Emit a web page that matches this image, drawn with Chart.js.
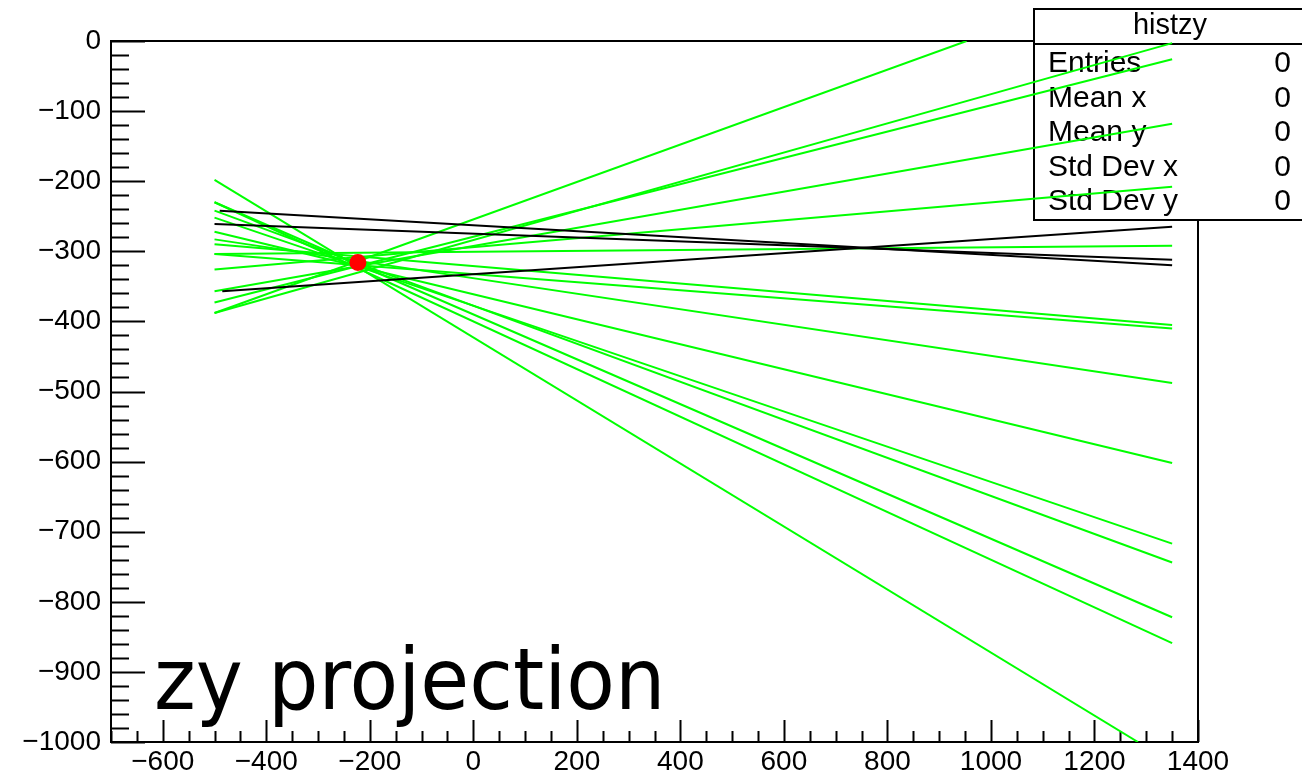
<!DOCTYPE html>
<html>
<head>
<meta charset="utf-8">
<script src="https://cdn.jsdelivr.net/npm/chart.js@4.4.1/dist/chart.umd.min.js"></script>
<style>
  html, body { margin: 0; padding: 0; background: #fff; }
  #wrap { width: 1302px; height: 778px; }
</style>
</head>
<body>
<div id="wrap"><canvas id="myChart"></canvas></div>
<script>
// axis tick labels
const xTicks = [-600, -400, -200, 0, 200, 400, 600, 800, 1000, 1200, 1400];
const yTicks = [0, -100, -200, -300, -400, -500, -600, -700, -800, -900, -1000];

// green tracks: start (z, y) -> end (z, y)
const greenZ0 = [-500, -500, -500, -500, -500, -500, -500, -500, -500, -500, -500, -500, -500, -500, -500];
const greenY0 = [-388, -388, -373, -357, -326, -304, -304, -290, -283, -272, -252, -242, -230, -230, -198];
const greenZ1 = [953, 1350, 1350, 1350, 1350, 1350, 1350, 1350, 1350, 1350, 1350, 1350, 1350, 1350, 1284];
const greenY1 = [0, -3, -26, -118, -208, -292, -410, -405, -488, -602, -717, -744, -822, -859, -1000];

// black tracks
const blackZ0 = [-490, -500, -485];
const blackY0 = [-242, -261, -357];
const blackZ1 = [1350, 1350, 1350];
const blackY1 = [-320, -312, -265];

// vertex
const vertexZ = [-223];
const vertexY = [-316];

// stats box
const statsTitle = 'histzy';
const statsLabels = ['Entries', 'Mean x', 'Mean y', 'Std Dev x', 'Std Dev y'];
const statsValues = [0, 0, 0, 0, 0];

const plotTitle = 'zy projection';

const datasets = [];

datasets.push({
    label: 'vertex',
    data: vertexZ.map((z, i) => ({ x: z, y: vertexY[i] })),
    backgroundColor: '#ff0000',
    borderColor: '#ff0000',
    pointRadius: 8.5,
    borderWidth: 0,
    order: 0
});

blackY0.forEach((y0, i) => {
    datasets.push({
        label: 'black ' + i,
        data: [{ x: blackZ0[i], y: y0 }, { x: blackZ1[i], y: blackY1[i] }],
        borderColor: '#000000',
        borderWidth: 2,
        showLine: true,
        pointRadius: 0,
        order: 1
    });
});

greenY0.forEach((y0, i) => {
    datasets.push({
        label: 'green ' + i,
        data: [{ x: greenZ0[i], y: y0 }, { x: greenZ1[i], y: greenY1[i] }],
        borderColor: '#00ff00',
        borderWidth: 2,
        showLine: true,
        pointRadius: 0,
        order: 2
    });
});

const minus = v => String(v).replace('-', '\u2212');

// frame, inward ticks, stats box, big label
const rootStyle = {
    id: 'rootStyle',
    beforeDatasetsDraw(chart) {
        const { ctx, chartArea: a, scales: { x, y } } = chart;
        ctx.save();
        ctx.strokeStyle = '#000';
        ctx.lineWidth = 2;
        ctx.strokeRect(a.left, a.top, a.right - a.left, a.bottom - a.top);

        ctx.beginPath();
        for (let v = x.min; v <= x.max; v += 50) {
            const px = Math.round(x.getPixelForValue(v)) + 0.5;
            const len = xTicks.includes(v) ? 22 : 11;
            ctx.moveTo(px, a.bottom);
            ctx.lineTo(px, a.bottom - len);
        }
        for (let v = y.min; v <= y.max; v += 20) {
            const py = Math.round(y.getPixelForValue(v)) + 0.5;
            const len = yTicks.includes(v) ? 34 : 18;
            ctx.moveTo(a.left, py);
            ctx.lineTo(a.left + len, py);
        }
        ctx.stroke();

        // stats box
        const bx = 1034, by = 9, bw = 290, bh = 211;
        ctx.fillStyle = '#fff';
        ctx.fillRect(bx, by, bw, bh);
        ctx.strokeRect(bx, by, bw, bh);
        ctx.beginPath();
        ctx.moveTo(bx, 44);
        ctx.lineTo(bx + bw, 44);
        ctx.stroke();

        ctx.fillStyle = '#000';
        ctx.font = '29px "Liberation Sans"';
        ctx.textBaseline = 'alphabetic';
        ctx.textAlign = 'center';
        ctx.fillText(statsTitle, 1170, 34);
        ctx.font = '30px "Liberation Sans"';
        statsLabels.forEach((lab, i) => {
            const base = 72 + i * 34.5;
            ctx.textAlign = 'left';
            ctx.fillText(lab, 1048, base);
            ctx.textAlign = 'right';
            ctx.fillText(String(statsValues[i]), 1291, base);
        });
        ctx.restore();
    },
    afterDatasetsDraw(chart) {
        const { ctx } = chart;
        ctx.save();
        ctx.fillStyle = '#000';
        ctx.font = '86px "DejaVu Sans"';
        ctx.textBaseline = 'alphabetic';
        ctx.textAlign = 'left';
        ctx.translate(154, 709);
        ctx.scale(0.925, 1);
        ctx.fillText(plotTitle, 0, 0);
        ctx.restore();
    }
};

const config = {
    type: 'scatter',
    data: { datasets: datasets },
    options: {
        responsive: true,
        maintainAspectRatio: false,
        animation: false,
        events: [],
        layout: { padding: { top: 41, right: 104, left: 0, bottom: 0 } },
        plugins: {
            legend: { display: false },
            tooltip: { enabled: false }
        },
        scales: {
            x: {
                type: 'linear',
                min: -700,
                max: 1400,
                grid: { display: false, drawTicks: false },
                border: { display: false },
                afterBuildTicks: scale => { scale.ticks = xTicks.map(v => ({ value: v })); },
                afterFit: scale => { scale.height = 36; },
                ticks: {
                    color: '#000',
                    padding: 3,
                    maxRotation: 0,
                    autoSkip: false,
                    font: { family: 'Liberation Sans', size: 28 },
                    callback: v => minus(v)
                }
            },
            y: {
                type: 'linear',
                min: -1000,
                max: 0,
                grid: { display: false, drawTicks: false },
                border: { display: false },
                afterBuildTicks: scale => { scale.ticks = yTicks.map(v => ({ value: v })); },
                afterFit: scale => { scale.width = 111; },
                ticks: {
                    color: '#000',
                    padding: 10,
                    autoSkip: false,
                    font: { family: 'Liberation Sans', size: 28 },
                    callback: v => minus(v)
                }
            }
        }
    },
    plugins: [rootStyle]
};

const myChart = new Chart(
    document.getElementById('myChart'),
    config
);
</script>
</body>
</html>
